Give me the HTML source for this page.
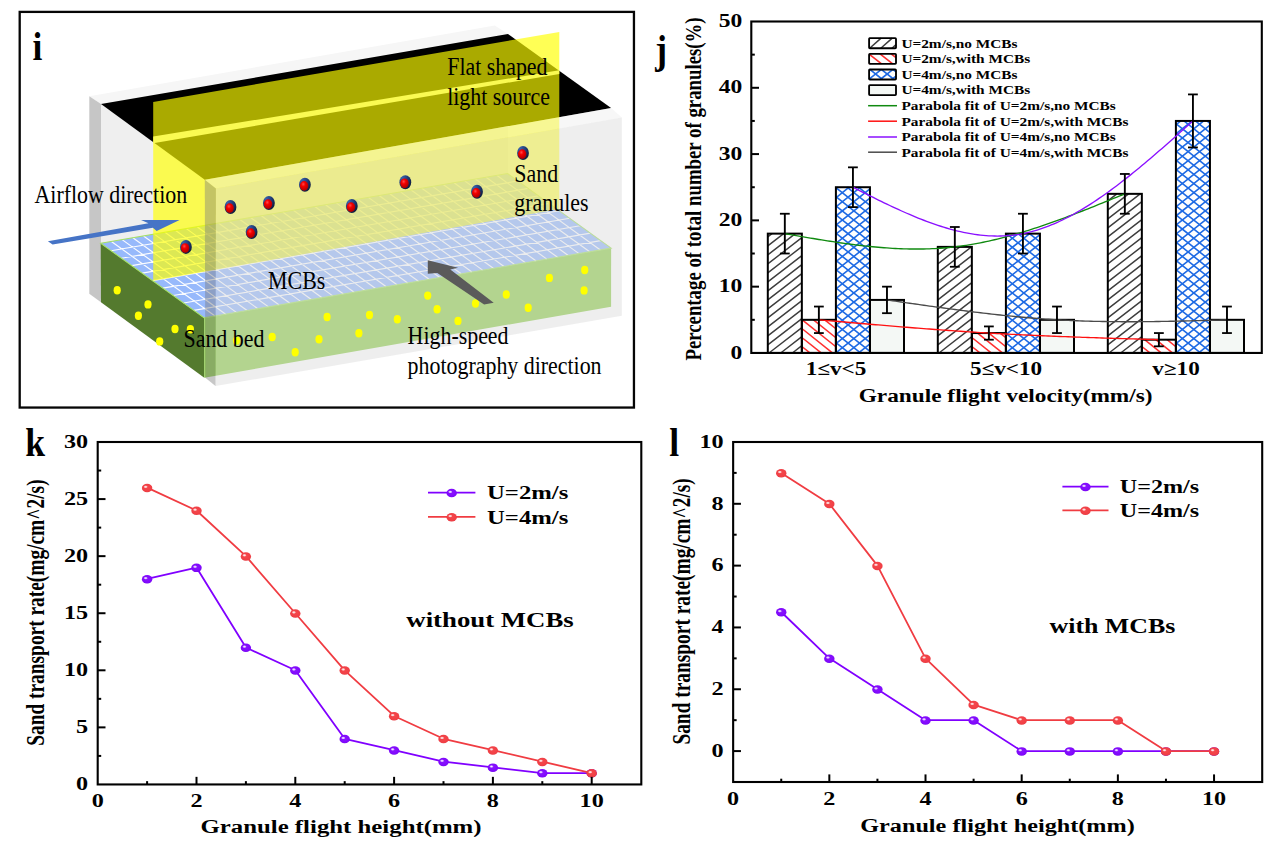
<!DOCTYPE html>
<html lang="en"><head><meta charset="utf-8"><title>Figure panels i-l</title>
<style>
html,body{margin:0;padding:0;background:#fff;}
body{width:1268px;height:850px;overflow:hidden;font-family:"Liberation Serif",serif;}
svg{display:block;}
</style></head>
<body>
<svg width="1268" height="850" viewBox="0 0 1268 850">
<defs>
<radialGradient id="gRed" cx="0.40" cy="0.32" r="0.70"><stop offset="0" stop-color="#ff4a4a"/><stop offset="0.35" stop-color="#f40000"/><stop offset="1" stop-color="#a80000"/></radialGradient>
<radialGradient id="gNavy" cx="0.25" cy="0.2" r="0.95"><stop offset="0" stop-color="#3a62ad"/><stop offset="0.5" stop-color="#1f3c78"/><stop offset="1" stop-color="#0b1430"/></radialGradient>
<radialGradient id="mP" cx="0.5" cy="0.45" r="0.62"><stop offset="0" stop-color="#8a14ff"/><stop offset="0.75" stop-color="#7f08fb"/><stop offset="1" stop-color="#6a00de"/></radialGradient>
<radialGradient id="mR" cx="0.5" cy="0.45" r="0.62"><stop offset="0" stop-color="#f5484c"/><stop offset="0.75" stop-color="#f03f45"/><stop offset="1" stop-color="#dc3038"/></radialGradient>
<radialGradient id="mH" cx="0.5" cy="0.5" r="0.5"><stop offset="0" stop-color="#ffffff" stop-opacity="0.95"/><stop offset="0.45" stop-color="#ffffff" stop-opacity="0.7"/><stop offset="1" stop-color="#ffffff" stop-opacity="0"/></radialGradient>
</defs>
<rect x="0" y="0" width="1268" height="850" fill="#fff"/>
<g id="pi">
<polygon points="89.30,96.30 101.00,104.10 508.00,34.00 494.80,25.50" fill="#f6f6f6" />
<polygon points="89.30,96.30 101.00,104.10 101.00,302.30 89.30,293.70" fill="#c6c6c6" />
<polygon points="101.00,104.10 508.00,34.00 508.00,232.00 101.00,302.30" fill="#efefef" />
<polygon points="100.70,243.30 204.30,317.90 204.30,377.80 101.00,302.30" fill="#547a2e" />
<polygon points="204.30,317.90 611.10,248.10 611.10,306.70 204.30,377.80" fill="#92d050" />
<polygon points="100.70,243.30 204.30,317.90 611.10,248.10 507.50,173.50" fill="#97b9fb" />
<path d="M111.06,250.76L517.86,180.96M121.42,258.22L528.22,188.42M131.78,265.68L538.58,195.88M142.14,273.14L548.94,203.34M152.50,280.60L559.30,210.80M162.86,288.06L569.66,218.26M173.22,295.52L580.02,225.72M183.58,302.98L590.38,233.18M193.94,310.44L600.74,240.64M111.41,241.46L215.01,316.06M122.11,239.63L225.71,314.23M132.82,237.79L236.42,312.39M143.52,235.95L247.12,310.55M154.23,234.12L257.83,308.72M164.93,232.28L268.53,306.88M175.64,230.44L279.24,305.04M186.34,228.61L289.94,303.21M197.05,226.77L300.65,301.37M207.75,224.93L311.35,299.53M218.46,223.09L322.06,297.69M229.16,221.26L332.76,295.86M239.87,219.42L343.47,294.02M250.57,217.58L354.17,292.18M261.28,215.75L364.88,290.35M271.98,213.91L375.58,288.51M282.69,212.07L386.29,286.67M293.39,210.24L396.99,284.84M304.10,208.40L407.70,283.00M314.81,206.56L418.41,281.16M325.51,204.73L429.11,279.33M336.22,202.89L439.82,277.49M346.92,201.05L450.52,275.65M357.63,199.22L461.23,273.82M368.33,197.38L471.93,271.98M379.04,195.54L482.64,270.14M389.74,193.71L493.34,268.31M400.45,191.87L504.05,266.47M411.15,190.03L514.75,264.63M421.86,188.19L525.46,262.79M432.56,186.36L536.16,260.96M443.27,184.52L546.87,259.12M453.97,182.68L557.57,257.28M464.68,180.85L568.28,255.45M475.38,179.01L578.98,253.61M486.09,177.17L589.69,251.77M496.79,175.34L600.39,249.94" stroke="#ffffff" stroke-width="1.15" fill="none" stroke-opacity="0.95"/>
<polygon points="100.7,243.3 204.3,317.9 611.1,248.1 507.5,173.5" fill="none" stroke="#a4e063" stroke-width="1.1"/>
<polygon points="101.00,104.10 508.00,34.00 611.10,108.00 204.80,179.70" fill="#000" />
<polygon points="153.20,102.00 559.30,32.00 559.30,209.00 153.20,280.70" fill="#ffff00" fill-opacity="0.667"/>
<polygon points="153.20,136.60 559.30,70.30 559.30,73.90 153.20,143.20" fill="#fafa52" />
<polygon points="204.80,179.70 215.90,188.40 621.80,117.60 611.10,108.00" fill="#ececec" fill-opacity="0.42"/>
<polygon points="215.90,188.40 621.80,117.60 621.80,315.80 215.50,386.10" fill="#dbdbdb" fill-opacity="0.46"/>
<polygon points="204.80,179.70 215.90,188.40 215.50,386.10 205.30,377.80" fill="#7e7e7e" fill-opacity="0.435"/>
<ellipse cx="117.2" cy="290.3" rx="3.6" ry="4.2" fill="#ffff00"/>
<ellipse cx="148" cy="304.4" rx="3.6" ry="4.2" fill="#ffff00"/>
<ellipse cx="138.4" cy="315.8" rx="3.6" ry="4.2" fill="#ffff00"/>
<ellipse cx="175" cy="329" rx="3.6" ry="4.2" fill="#ffff00"/>
<ellipse cx="190.4" cy="329.3" rx="3.6" ry="4.2" fill="#ffff00"/>
<ellipse cx="159.7" cy="341.4" rx="3.6" ry="4.2" fill="#ffff00"/>
<ellipse cx="236.5" cy="340.6" rx="3.6" ry="4.2" fill="#ffff00"/>
<ellipse cx="272.2" cy="337.0" rx="3.6" ry="4.2" fill="#ffff00"/>
<ellipse cx="295.2" cy="352.3" rx="3.6" ry="4.2" fill="#ffff00"/>
<ellipse cx="319" cy="339.2" rx="3.6" ry="4.2" fill="#ffff00"/>
<ellipse cx="327.1" cy="317" rx="3.6" ry="4.2" fill="#ffff00"/>
<ellipse cx="358.9" cy="333.2" rx="3.6" ry="4.2" fill="#ffff00"/>
<ellipse cx="369.5" cy="315" rx="3.6" ry="4.2" fill="#ffff00"/>
<ellipse cx="397.3" cy="319.3" rx="3.6" ry="4.2" fill="#ffff00"/>
<ellipse cx="427.7" cy="295.6" rx="3.6" ry="4.2" fill="#ffff00"/>
<ellipse cx="437.1" cy="309.3" rx="3.6" ry="4.2" fill="#ffff00"/>
<ellipse cx="458" cy="320.9" rx="3.6" ry="4.2" fill="#ffff00"/>
<ellipse cx="475.5" cy="303.5" rx="3.6" ry="4.2" fill="#ffff00"/>
<ellipse cx="506.3" cy="294.5" rx="3.6" ry="4.2" fill="#ffff00"/>
<ellipse cx="528.2" cy="307.7" rx="3.6" ry="4.2" fill="#ffff00"/>
<ellipse cx="549.4" cy="277.9" rx="3.6" ry="4.2" fill="#ffff00"/>
<ellipse cx="584.7" cy="270" rx="3.6" ry="4.2" fill="#ffff00"/>
<ellipse cx="584.1" cy="290.4" rx="3.6" ry="4.2" fill="#ffff00"/>
<ellipse cx="185.9" cy="246.9" rx="5.9" ry="7" fill="url(#gNavy)"/>
<ellipse cx="185.1" cy="248.0" rx="4.2" ry="4.85" fill="url(#gRed)"/>
<ellipse cx="230.5" cy="207" rx="5.9" ry="7" fill="url(#gNavy)"/>
<ellipse cx="229.7" cy="208.1" rx="4.2" ry="4.85" fill="url(#gRed)"/>
<ellipse cx="251.6" cy="232" rx="5.9" ry="7" fill="url(#gNavy)"/>
<ellipse cx="250.79999999999998" cy="233.1" rx="4.2" ry="4.85" fill="url(#gRed)"/>
<ellipse cx="268.9" cy="203" rx="5.9" ry="7" fill="url(#gNavy)"/>
<ellipse cx="268.09999999999997" cy="204.1" rx="4.2" ry="4.85" fill="url(#gRed)"/>
<ellipse cx="304.9" cy="184.8" rx="5.9" ry="7" fill="url(#gNavy)"/>
<ellipse cx="304.09999999999997" cy="185.9" rx="4.2" ry="4.85" fill="url(#gRed)"/>
<ellipse cx="351.8" cy="206" rx="5.9" ry="7" fill="url(#gNavy)"/>
<ellipse cx="351.0" cy="207.1" rx="4.2" ry="4.85" fill="url(#gRed)"/>
<ellipse cx="405.3" cy="182.2" rx="5.9" ry="7" fill="url(#gNavy)"/>
<ellipse cx="404.5" cy="183.29999999999998" rx="4.2" ry="4.85" fill="url(#gRed)"/>
<ellipse cx="477" cy="191.8" rx="5.9" ry="7" fill="url(#gNavy)"/>
<ellipse cx="476.2" cy="192.9" rx="4.2" ry="4.85" fill="url(#gRed)"/>
<ellipse cx="523" cy="153" rx="5.9" ry="7" fill="url(#gNavy)"/>
<ellipse cx="522.2" cy="154.1" rx="4.2" ry="4.85" fill="url(#gRed)"/>
<polygon points="47.90,241.20 148.50,223.20 141.00,219.90 179.60,219.90 156.70,231.00 152.80,227.80 52.60,244.40" fill="#4674c6" />
<polygon points="427.80,260.20 458.10,267.70 450.30,269.40 493.70,302.70 484.10,304.60 437.30,272.90 427.80,273.70" fill="#5a5a5a" />
<rect x="19.7" y="11.9" width="614.25" height="395.65" fill="none" stroke="#050505" stroke-width="2.3"/>
<text transform="translate(34.50,203.30) scale(0.8980,1.0000)" font-family="Liberation Serif" font-weight="normal" font-size="24.4" text-anchor="start" fill="#000">Airflow direction</text>
<text transform="translate(447.20,74.90) scale(0.8980,1.0000)" font-family="Liberation Serif" font-weight="normal" font-size="24.4" text-anchor="start" fill="#000">Flat shaped</text>
<text transform="translate(447.20,104.80) scale(0.8980,1.0000)" font-family="Liberation Serif" font-weight="normal" font-size="24.4" text-anchor="start" fill="#000">light source</text>
<text transform="translate(514.30,181.60) scale(0.8980,1.0000)" font-family="Liberation Serif" font-weight="normal" font-size="24.4" text-anchor="start" fill="#000">Sand</text>
<text transform="translate(514.30,211.10) scale(0.8980,1.0000)" font-family="Liberation Serif" font-weight="normal" font-size="24.4" text-anchor="start" fill="#000">granules</text>
<text transform="translate(268.10,289.20) scale(0.8980,1.0000)" font-family="Liberation Serif" font-weight="normal" font-size="24.4" text-anchor="start" fill="#000">MCBs</text>
<text transform="translate(183.50,347.20) scale(0.8980,1.0000)" font-family="Liberation Serif" font-weight="normal" font-size="24.4" text-anchor="start" fill="#000">Sand bed</text>
<text transform="translate(407.60,343.90) scale(0.8980,1.0000)" font-family="Liberation Serif" font-weight="normal" font-size="24.4" text-anchor="start" fill="#000">High-speed</text>
<text transform="translate(407.60,373.80) scale(0.8980,1.0000)" font-family="Liberation Serif" font-weight="normal" font-size="24.4" text-anchor="start" fill="#000">photography direction</text>
<text transform="translate(37.40,59.85) scale(0.8700,1.0000)" font-family="Liberation Serif" font-weight="bold" font-size="40.7" text-anchor="middle" fill="#000">i</text>
</g>
<g id="pj">
<rect x="767.80" y="233.63" width="34.05" height="119.32" fill="#fff"/>
<path d="M767.80,236.85L771.98,233.63M767.80,245.85L783.67,233.63M767.80,254.85L795.36,233.63M767.80,263.85L801.85,237.63M767.80,272.85L801.85,246.63M767.80,281.85L801.85,255.63M767.80,290.85L801.85,264.63M767.80,299.85L801.85,273.63M767.80,308.85L801.85,282.63M767.80,317.85L801.85,291.63M767.80,326.85L801.85,300.63M767.80,335.85L801.85,309.63M767.80,344.85L801.85,318.63M768.97,352.95L801.85,327.63M780.66,352.95L801.85,336.63M792.35,352.95L801.85,345.63" stroke="#3d3d3d" stroke-width="1.4" fill="none" stroke-opacity="1.0"/>
<rect x="801.85" y="319.81" width="34.05" height="33.14" fill="#fff"/>
<path d="M824.73,319.81L835.90,328.74M813.48,319.81L835.90,337.74M802.23,319.81L835.90,346.74M801.85,328.50L832.41,352.95M801.85,337.50L821.16,352.95M801.85,346.50L809.91,352.95" stroke="#ff3030" stroke-width="1.55" fill="none" stroke-opacity="1.0"/>
<rect x="835.90" y="187.22" width="34.05" height="165.72" fill="#fff"/>
<path d="M835.90,188.64L837.68,187.22M835.90,197.76L849.15,187.22M835.90,206.88L860.62,187.22M835.90,216.00L869.95,188.93M835.90,225.12L869.95,198.05M835.90,234.24L869.95,207.17M835.90,243.36L869.95,216.29M835.90,252.48L869.95,225.41M835.90,261.60L869.95,234.53M835.90,270.72L869.95,243.65M835.90,279.84L869.95,252.77M835.90,288.96L869.95,261.89M835.90,298.08L869.95,271.01M835.90,307.20L869.95,280.13M835.90,316.32L869.95,289.25M835.90,325.44L869.95,298.37M835.90,334.56L869.95,307.49M835.90,343.68L869.95,316.61M835.90,352.80L869.95,325.73M847.18,352.95L869.95,334.85M858.65,352.95L869.95,343.97" stroke="#1e6ae4" stroke-width="1.6" fill="none" stroke-opacity="1.0"/>
<path d="M858.47,187.22L869.95,196.35M847.00,187.22L869.95,205.47M835.90,187.52L869.95,214.59M835.90,196.64L869.95,223.71M835.90,205.76L869.95,232.83M835.90,214.88L869.95,241.95M835.90,224.00L869.95,251.07M835.90,233.12L869.95,260.19M835.90,242.24L869.95,269.31M835.90,251.36L869.95,278.43M835.90,260.48L869.95,287.55M835.90,269.60L869.95,296.67M835.90,278.72L869.95,305.79M835.90,287.84L869.95,314.91M835.90,296.96L869.95,324.03M835.90,306.08L869.95,333.15M835.90,315.20L869.95,342.27M835.90,324.32L869.95,351.39M835.90,333.44L860.44,352.95M835.90,342.56L848.97,352.95M835.90,351.68L837.50,352.95" stroke="#1e6ae4" stroke-width="1.6" fill="none" stroke-opacity="1.0"/>
<rect x="869.95" y="299.92" width="34.05" height="53.03" fill="#f4f8f5"/>
<rect x="937.80" y="246.89" width="34.05" height="106.06" fill="#fff"/>
<path d="M937.80,254.85L948.14,246.89M937.80,263.85L959.83,246.89M937.80,272.85L971.52,246.89M937.80,281.85L971.85,255.63M937.80,290.85L971.85,264.63M937.80,299.85L971.85,273.63M937.80,308.85L971.85,282.63M937.80,317.85L971.85,291.63M937.80,326.85L971.85,300.63M937.80,335.85L971.85,309.63M937.80,344.85L971.85,318.63M938.97,352.95L971.85,327.63M950.66,352.95L971.85,336.63M962.35,352.95L971.85,345.63" stroke="#3d3d3d" stroke-width="1.4" fill="none" stroke-opacity="1.0"/>
<rect x="971.85" y="333.06" width="34.05" height="19.89" fill="#fff"/>
<path d="M1000.05,333.06L1005.90,337.74M988.80,333.06L1005.90,346.74M977.55,333.06L1002.41,352.95M971.85,337.50L991.16,352.95M971.85,346.50L979.91,352.95" stroke="#ff3030" stroke-width="1.55" fill="none" stroke-opacity="1.0"/>
<rect x="1005.90" y="233.63" width="34.05" height="119.32" fill="#fff"/>
<path d="M1005.90,234.24L1006.67,233.63M1005.90,243.36L1018.14,233.63M1005.90,252.48L1029.61,233.63M1005.90,261.60L1039.95,234.53M1005.90,270.72L1039.95,243.65M1005.90,279.84L1039.95,252.77M1005.90,288.96L1039.95,261.89M1005.90,298.08L1039.95,271.01M1005.90,307.20L1039.95,280.13M1005.90,316.32L1039.95,289.25M1005.90,325.44L1039.95,298.37M1005.90,334.56L1039.95,307.49M1005.90,343.68L1039.95,316.61M1005.90,352.80L1039.95,325.73M1017.18,352.95L1039.95,334.85M1028.65,352.95L1039.95,343.97" stroke="#1e6ae4" stroke-width="1.6" fill="none" stroke-opacity="1.0"/>
<path d="M1029.48,233.63L1039.95,241.95M1018.01,233.63L1039.95,251.07M1006.54,233.63L1039.95,260.19M1005.90,242.24L1039.95,269.31M1005.90,251.36L1039.95,278.43M1005.90,260.48L1039.95,287.55M1005.90,269.60L1039.95,296.67M1005.90,278.72L1039.95,305.79M1005.90,287.84L1039.95,314.91M1005.90,296.96L1039.95,324.03M1005.90,306.08L1039.95,333.15M1005.90,315.20L1039.95,342.27M1005.90,324.32L1039.95,351.39M1005.90,333.44L1030.44,352.95M1005.90,342.56L1018.97,352.95M1005.90,351.68L1007.50,352.95" stroke="#1e6ae4" stroke-width="1.6" fill="none" stroke-opacity="1.0"/>
<rect x="1039.95" y="319.81" width="34.05" height="33.14" fill="#f4f8f5"/>
<rect x="1107.80" y="193.85" width="34.05" height="159.10" fill="#fff"/>
<path d="M1107.80,200.85L1116.89,193.85M1107.80,209.85L1128.57,193.85M1107.80,218.85L1140.26,193.85M1107.80,227.85L1141.85,201.63M1107.80,236.85L1141.85,210.63M1107.80,245.85L1141.85,219.63M1107.80,254.85L1141.85,228.63M1107.80,263.85L1141.85,237.63M1107.80,272.85L1141.85,246.63M1107.80,281.85L1141.85,255.63M1107.80,290.85L1141.85,264.63M1107.80,299.85L1141.85,273.63M1107.80,308.85L1141.85,282.63M1107.80,317.85L1141.85,291.63M1107.80,326.85L1141.85,300.63M1107.80,335.85L1141.85,309.63M1107.80,344.85L1141.85,318.63M1108.97,352.95L1141.85,327.63M1120.66,352.95L1141.85,336.63M1132.35,352.95L1141.85,345.63" stroke="#3d3d3d" stroke-width="1.4" fill="none" stroke-opacity="1.0"/>
<rect x="1141.85" y="339.69" width="34.05" height="13.26" fill="#fff"/>
<path d="M1167.09,339.69L1175.90,346.74M1155.84,339.69L1172.41,352.95M1144.59,339.69L1161.16,352.95M1141.85,346.50L1149.91,352.95" stroke="#ff3030" stroke-width="1.55" fill="none" stroke-opacity="1.0"/>
<rect x="1175.90" y="120.94" width="34.05" height="232.01" fill="#fff"/>
<path d="M1175.90,124.80L1180.76,120.94M1175.90,133.92L1192.23,120.94M1175.90,143.04L1203.71,120.94M1175.90,152.16L1209.95,125.09M1175.90,161.28L1209.95,134.21M1175.90,170.40L1209.95,143.33M1175.90,179.52L1209.95,152.45M1175.90,188.64L1209.95,161.57M1175.90,197.76L1209.95,170.69M1175.90,206.88L1209.95,179.81M1175.90,216.00L1209.95,188.93M1175.90,225.12L1209.95,198.05M1175.90,234.24L1209.95,207.17M1175.90,243.36L1209.95,216.29M1175.90,252.48L1209.95,225.41M1175.90,261.60L1209.95,234.53M1175.90,270.72L1209.95,243.65M1175.90,279.84L1209.95,252.77M1175.90,288.96L1209.95,261.89M1175.90,298.08L1209.95,271.01M1175.90,307.20L1209.95,280.13M1175.90,316.32L1209.95,289.25M1175.90,325.44L1209.95,298.37M1175.90,334.56L1209.95,307.49M1175.90,343.68L1209.95,316.61M1175.90,352.80L1209.95,325.73M1187.18,352.95L1209.95,334.85M1198.65,352.95L1209.95,343.97" stroke="#1e6ae4" stroke-width="1.6" fill="none" stroke-opacity="1.0"/>
<path d="M1206.86,120.94L1209.95,123.39M1195.39,120.94L1209.95,132.51M1183.92,120.94L1209.95,141.63M1175.90,123.68L1209.95,150.75M1175.90,132.80L1209.95,159.87M1175.90,141.92L1209.95,168.99M1175.90,151.04L1209.95,178.11M1175.90,160.16L1209.95,187.23M1175.90,169.28L1209.95,196.35M1175.90,178.40L1209.95,205.47M1175.90,187.52L1209.95,214.59M1175.90,196.64L1209.95,223.71M1175.90,205.76L1209.95,232.83M1175.90,214.88L1209.95,241.95M1175.90,224.00L1209.95,251.07M1175.90,233.12L1209.95,260.19M1175.90,242.24L1209.95,269.31M1175.90,251.36L1209.95,278.43M1175.90,260.48L1209.95,287.55M1175.90,269.60L1209.95,296.67M1175.90,278.72L1209.95,305.79M1175.90,287.84L1209.95,314.91M1175.90,296.96L1209.95,324.03M1175.90,306.08L1209.95,333.15M1175.90,315.20L1209.95,342.27M1175.90,324.32L1209.95,351.39M1175.90,333.44L1200.44,352.95M1175.90,342.56L1188.97,352.95M1175.90,351.68L1177.50,352.95" stroke="#1e6ae4" stroke-width="1.6" fill="none" stroke-opacity="1.0"/>
<rect x="1209.95" y="319.81" width="34.05" height="33.14" fill="#f4f8f5"/>
<rect x="767.80" y="233.63" width="34.05" height="119.32" fill="none" stroke="#000" stroke-width="2"/>
<rect x="801.85" y="319.81" width="34.05" height="33.14" fill="none" stroke="#000" stroke-width="2"/>
<rect x="835.90" y="187.22" width="34.05" height="165.72" fill="none" stroke="#000" stroke-width="2"/>
<rect x="869.95" y="299.92" width="34.05" height="53.03" fill="none" stroke="#000" stroke-width="2"/>
<rect x="937.80" y="246.89" width="34.05" height="106.06" fill="none" stroke="#000" stroke-width="2"/>
<rect x="971.85" y="333.06" width="34.05" height="19.89" fill="none" stroke="#000" stroke-width="2"/>
<rect x="1005.90" y="233.63" width="34.05" height="119.32" fill="none" stroke="#000" stroke-width="2"/>
<rect x="1039.95" y="319.81" width="34.05" height="33.14" fill="none" stroke="#000" stroke-width="2"/>
<rect x="1107.80" y="193.85" width="34.05" height="159.10" fill="none" stroke="#000" stroke-width="2"/>
<rect x="1141.85" y="339.69" width="34.05" height="13.26" fill="none" stroke="#000" stroke-width="2"/>
<rect x="1175.90" y="120.94" width="34.05" height="232.01" fill="none" stroke="#000" stroke-width="2"/>
<rect x="1209.95" y="319.81" width="34.05" height="33.14" fill="none" stroke="#000" stroke-width="2"/>
<polyline points="784.82,233.63 787.66,234.13 790.49,234.62 793.32,235.12 796.16,235.61 798.99,236.10 801.82,236.59 804.66,237.08 807.49,237.57 810.32,238.05 813.16,238.52 815.99,238.99 818.82,239.46 821.66,239.92 824.49,240.38 827.32,240.83 830.16,241.27 832.99,241.70 835.82,242.13 838.66,242.55 841.49,242.96 844.32,243.36 847.16,243.75 849.99,244.13 852.82,244.50 855.66,244.86 858.49,245.21 861.32,245.54 864.16,245.86 866.99,246.17 869.82,246.47 872.66,246.75 875.49,247.02 878.32,247.28 881.16,247.52 883.99,247.74 886.82,247.95 889.66,248.14 892.49,248.31 895.32,248.47 898.16,248.60 900.99,248.72 903.82,248.82 906.66,248.91 909.49,248.97 912.32,249.01 915.16,249.03 917.99,249.03 920.83,249.01 923.66,248.96 926.49,248.90 929.33,248.81 932.16,248.69 934.99,248.56 937.83,248.39 940.66,248.21 943.49,248.00 946.33,247.76 949.16,247.49 951.99,247.20 954.83,246.89 957.66,246.54 960.49,246.17 963.33,245.77 966.16,245.34 968.99,244.89 971.83,244.42 974.66,243.92 977.49,243.39 980.33,242.84 983.16,242.27 985.99,241.67 988.83,241.05 991.66,240.41 994.49,239.75 997.33,239.07 1000.16,238.36 1002.99,237.64 1005.83,236.89 1008.66,236.13 1011.49,235.35 1014.33,234.55 1017.16,233.73 1019.99,232.89 1022.83,232.04 1025.66,231.17 1028.49,230.28 1031.33,229.38 1034.16,228.46 1036.99,227.53 1039.83,226.58 1042.66,225.62 1045.49,224.65 1048.33,223.67 1051.16,222.67 1053.99,221.66 1056.83,220.64 1059.66,219.60 1062.49,218.56 1065.33,217.51 1068.16,216.44 1070.99,215.37 1073.83,214.29 1076.66,213.20 1079.49,212.10 1082.33,211.00 1085.16,209.88 1087.99,208.77 1090.83,207.64 1093.66,206.51 1096.49,205.38 1099.33,204.24 1102.16,203.10 1104.99,201.95 1107.83,200.80 1110.66,199.64 1113.49,198.49 1116.33,197.33 1119.16,196.17 1121.99,195.01 1124.83,193.85" fill="none" stroke="#108a10" stroke-width="1.35"/>
<polyline points="818.87,319.81 821.71,320.05 824.54,320.30 827.37,320.55 830.21,320.80 833.04,321.05 835.87,321.29 838.71,321.54 841.54,321.79 844.37,322.04 847.21,322.28 850.04,322.53 852.87,322.77 855.71,323.02 858.54,323.26 861.37,323.51 864.21,323.75 867.04,323.99 869.87,324.23 872.71,324.48 875.54,324.72 878.37,324.95 881.21,325.19 884.04,325.43 886.87,325.67 889.71,325.90 892.54,326.13 895.37,326.37 898.21,326.60 901.04,326.83 903.87,327.06 906.71,327.28 909.54,327.51 912.37,327.73 915.21,327.96 918.04,328.18 920.87,328.40 923.71,328.61 926.54,328.83 929.37,329.04 932.21,329.26 935.04,329.47 937.87,329.68 940.71,329.88 943.54,330.09 946.37,330.29 949.21,330.49 952.04,330.69 954.88,330.89 957.71,331.08 960.54,331.28 963.38,331.47 966.21,331.65 969.04,331.84 971.88,332.02 974.71,332.20 977.54,332.38 980.38,332.55 983.21,332.73 986.04,332.90 988.88,333.06 991.71,333.23 994.54,333.39 997.38,333.55 1000.21,333.70 1003.04,333.86 1005.88,334.01 1008.71,334.16 1011.54,334.30 1014.38,334.45 1017.21,334.59 1020.04,334.73 1022.88,334.87 1025.71,335.00 1028.54,335.13 1031.38,335.26 1034.21,335.39 1037.04,335.52 1039.88,335.64 1042.71,335.77 1045.54,335.89 1048.38,336.01 1051.21,336.12 1054.04,336.24 1056.88,336.35 1059.71,336.46 1062.54,336.57 1065.38,336.68 1068.21,336.79 1071.04,336.89 1073.88,337.00 1076.71,337.10 1079.54,337.20 1082.38,337.30 1085.21,337.40 1088.04,337.50 1090.88,337.60 1093.71,337.69 1096.54,337.79 1099.38,337.88 1102.21,337.97 1105.04,338.06 1107.88,338.16 1110.71,338.25 1113.54,338.33 1116.38,338.42 1119.21,338.51 1122.04,338.60 1124.88,338.68 1127.71,338.77 1130.54,338.86 1133.38,338.94 1136.21,339.03 1139.04,339.11 1141.88,339.19 1144.71,339.28 1147.54,339.36 1150.38,339.44 1153.21,339.53 1156.04,339.61 1158.88,339.69" fill="none" stroke="#ff1010" stroke-width="1.35"/>
<polyline points="852.92,187.22 855.76,188.66 858.59,190.10 861.42,191.53 864.26,192.96 867.09,194.38 869.92,195.80 872.76,197.22 875.59,198.62 878.42,200.02 881.26,201.40 884.09,202.78 886.92,204.14 889.76,205.49 892.59,206.83 895.42,208.15 898.26,209.45 901.09,210.74 903.92,212.00 906.76,213.25 909.59,214.48 912.42,215.68 915.26,216.86 918.09,218.02 920.92,219.15 923.76,220.25 926.59,221.33 929.42,222.38 932.26,223.40 935.09,224.39 937.92,225.34 940.76,226.26 943.59,227.15 946.42,228.00 949.26,228.82 952.09,229.60 954.92,230.34 957.76,231.04 960.59,231.70 963.42,232.32 966.26,232.89 969.09,233.42 971.92,233.91 974.76,234.34 977.59,234.74 980.42,235.08 983.26,235.37 986.09,235.61 988.92,235.80 991.76,235.94 994.59,236.02 997.42,236.05 1000.26,236.02 1003.09,235.93 1005.92,235.79 1008.76,235.58 1011.59,235.32 1014.42,234.99 1017.26,234.60 1020.09,234.15 1022.92,233.63 1025.76,233.04 1028.59,232.39 1031.42,231.68 1034.26,230.90 1037.09,230.06 1039.92,229.16 1042.76,228.20 1045.59,227.18 1048.42,226.11 1051.26,224.97 1054.09,223.79 1056.92,222.54 1059.76,221.25 1062.59,219.90 1065.42,218.51 1068.26,217.06 1071.09,215.56 1073.92,214.02 1076.76,212.43 1079.59,210.79 1082.42,209.12 1085.26,207.39 1088.09,205.63 1090.92,203.82 1093.76,201.98 1096.59,200.10 1099.42,198.17 1102.26,196.22 1105.09,194.22 1107.92,192.20 1110.76,190.14 1113.59,188.04 1116.42,185.92 1119.26,183.77 1122.09,181.59 1124.92,179.38 1127.76,177.14 1130.59,174.88 1133.42,172.59 1136.26,170.28 1139.09,167.95 1141.92,165.60 1144.76,163.23 1147.59,160.84 1150.42,158.43 1153.26,156.01 1156.09,153.56 1158.92,151.11 1161.76,148.64 1164.59,146.16 1167.42,143.67 1170.26,141.17 1173.09,138.66 1175.92,136.14 1178.76,133.62 1181.59,131.09 1184.42,128.55 1187.26,126.02 1190.09,123.48 1192.92,120.94" fill="none" stroke="#8a10ff" stroke-width="1.35"/>
<polyline points="886.97,299.92 889.81,300.33 892.64,300.75 895.47,301.16 898.31,301.57 901.14,301.99 903.97,302.40 906.81,302.81 909.64,303.22 912.47,303.63 915.31,304.04 918.14,304.44 920.97,304.85 923.81,305.25 926.64,305.66 929.47,306.06 932.31,306.45 935.14,306.85 937.97,307.24 940.81,307.63 943.64,308.02 946.47,308.41 949.31,308.79 952.14,309.17 954.97,309.54 957.81,309.92 960.64,310.29 963.47,310.65 966.31,311.01 969.14,311.37 971.97,311.73 974.81,312.08 977.64,312.42 980.48,312.76 983.31,313.10 986.14,313.43 988.98,313.76 991.81,314.08 994.64,314.40 997.48,314.71 1000.31,315.02 1003.14,315.32 1005.98,315.61 1008.81,315.90 1011.64,316.19 1014.48,316.46 1017.31,316.74 1020.14,317.00 1022.98,317.26 1025.81,317.51 1028.64,317.76 1031.47,317.99 1034.31,318.23 1037.14,318.45 1039.97,318.67 1042.81,318.88 1045.64,319.08 1048.47,319.27 1051.31,319.46 1054.14,319.64 1056.97,319.81 1059.81,319.97 1062.64,320.12 1065.47,320.27 1068.31,320.40 1071.14,320.53 1073.98,320.66 1076.81,320.77 1079.64,320.88 1082.47,320.98 1085.31,321.07 1088.14,321.16 1090.98,321.24 1093.81,321.31 1096.64,321.38 1099.48,321.44 1102.31,321.49 1105.14,321.54 1107.98,321.58 1110.81,321.62 1113.64,321.65 1116.48,321.67 1119.31,321.69 1122.14,321.71 1124.98,321.71 1127.81,321.72 1130.64,321.72 1133.48,321.71 1136.31,321.70 1139.14,321.69 1141.98,321.67 1144.81,321.65 1147.64,321.62 1150.48,321.59 1153.31,321.55 1156.14,321.52 1158.98,321.48 1161.81,321.43 1164.64,321.38 1167.48,321.33 1170.31,321.28 1173.14,321.22 1175.98,321.16 1178.81,321.10 1181.64,321.04 1184.48,320.97 1187.31,320.90 1190.14,320.83 1192.98,320.76 1195.81,320.69 1198.64,320.61 1201.48,320.53 1204.31,320.46 1207.14,320.38 1209.98,320.30 1212.81,320.22 1215.64,320.13 1218.48,320.05 1221.31,319.97 1224.14,319.89 1226.98,319.81" fill="none" stroke="#4a4a4a" stroke-width="1.35"/>
<line x1="784.82" y1="213.74" x2="784.82" y2="253.51" stroke="#000" stroke-width="1.9" />
<line x1="779.92" y1="213.74" x2="789.72" y2="213.74" stroke="#000" stroke-width="1.8" />
<line x1="779.92" y1="253.51" x2="789.72" y2="253.51" stroke="#000" stroke-width="1.8" />
<line x1="818.87" y1="306.55" x2="818.87" y2="333.06" stroke="#000" stroke-width="1.9" />
<line x1="813.97" y1="306.55" x2="823.77" y2="306.55" stroke="#000" stroke-width="1.8" />
<line x1="813.97" y1="333.06" x2="823.77" y2="333.06" stroke="#000" stroke-width="1.8" />
<line x1="852.92" y1="167.34" x2="852.92" y2="207.11" stroke="#000" stroke-width="1.9" />
<line x1="848.02" y1="167.34" x2="857.82" y2="167.34" stroke="#000" stroke-width="1.8" />
<line x1="848.02" y1="207.11" x2="857.82" y2="207.11" stroke="#000" stroke-width="1.8" />
<line x1="886.97" y1="286.66" x2="886.97" y2="313.18" stroke="#000" stroke-width="1.9" />
<line x1="882.07" y1="286.66" x2="891.87" y2="286.66" stroke="#000" stroke-width="1.8" />
<line x1="882.07" y1="313.18" x2="891.87" y2="313.18" stroke="#000" stroke-width="1.8" />
<line x1="954.82" y1="227.00" x2="954.82" y2="266.77" stroke="#000" stroke-width="1.9" />
<line x1="949.92" y1="227.00" x2="959.72" y2="227.00" stroke="#000" stroke-width="1.8" />
<line x1="949.92" y1="266.77" x2="959.72" y2="266.77" stroke="#000" stroke-width="1.8" />
<line x1="988.87" y1="326.43" x2="988.87" y2="339.69" stroke="#000" stroke-width="1.9" />
<line x1="983.97" y1="326.43" x2="993.77" y2="326.43" stroke="#000" stroke-width="1.8" />
<line x1="983.97" y1="339.69" x2="993.77" y2="339.69" stroke="#000" stroke-width="1.8" />
<line x1="1022.92" y1="213.74" x2="1022.92" y2="253.51" stroke="#000" stroke-width="1.9" />
<line x1="1018.02" y1="213.74" x2="1027.83" y2="213.74" stroke="#000" stroke-width="1.8" />
<line x1="1018.02" y1="253.51" x2="1027.83" y2="253.51" stroke="#000" stroke-width="1.8" />
<line x1="1056.98" y1="306.55" x2="1056.98" y2="333.06" stroke="#000" stroke-width="1.9" />
<line x1="1052.08" y1="306.55" x2="1061.88" y2="306.55" stroke="#000" stroke-width="1.8" />
<line x1="1052.08" y1="333.06" x2="1061.88" y2="333.06" stroke="#000" stroke-width="1.8" />
<line x1="1124.83" y1="173.97" x2="1124.83" y2="213.74" stroke="#000" stroke-width="1.9" />
<line x1="1119.92" y1="173.97" x2="1129.73" y2="173.97" stroke="#000" stroke-width="1.8" />
<line x1="1119.92" y1="213.74" x2="1129.73" y2="213.74" stroke="#000" stroke-width="1.8" />
<line x1="1158.88" y1="333.06" x2="1158.88" y2="346.32" stroke="#000" stroke-width="1.9" />
<line x1="1153.97" y1="333.06" x2="1163.78" y2="333.06" stroke="#000" stroke-width="1.8" />
<line x1="1153.97" y1="346.32" x2="1163.78" y2="346.32" stroke="#000" stroke-width="1.8" />
<line x1="1192.92" y1="94.42" x2="1192.92" y2="147.45" stroke="#000" stroke-width="1.9" />
<line x1="1188.02" y1="94.42" x2="1197.83" y2="94.42" stroke="#000" stroke-width="1.8" />
<line x1="1188.02" y1="147.45" x2="1197.83" y2="147.45" stroke="#000" stroke-width="1.8" />
<line x1="1226.98" y1="306.55" x2="1226.98" y2="333.06" stroke="#000" stroke-width="1.9" />
<line x1="1222.08" y1="306.55" x2="1231.88" y2="306.55" stroke="#000" stroke-width="1.8" />
<line x1="1222.08" y1="333.06" x2="1231.88" y2="333.06" stroke="#000" stroke-width="1.8" />
<rect x="751.3" y="21.5" width="510.50" height="331.45" fill="none" stroke="#000" stroke-width="2.1"/>
<text transform="translate(742.20,358.55) scale(1.2600,1.0000)" font-family="Liberation Serif" font-weight="bold" font-size="18.7" text-anchor="end" fill="#000">0</text>
<line x1="751.30" y1="319.81" x2="754.80" y2="319.81" stroke="#000" stroke-width="2" />
<line x1="751.30" y1="286.66" x2="759.00" y2="286.66" stroke="#000" stroke-width="2" />
<text transform="translate(742.20,292.26) scale(1.2600,1.0000)" font-family="Liberation Serif" font-weight="bold" font-size="18.7" text-anchor="end" fill="#000">10</text>
<line x1="751.30" y1="253.51" x2="754.80" y2="253.51" stroke="#000" stroke-width="2" />
<line x1="751.30" y1="220.37" x2="759.00" y2="220.37" stroke="#000" stroke-width="2" />
<text transform="translate(742.20,225.97) scale(1.2600,1.0000)" font-family="Liberation Serif" font-weight="bold" font-size="18.7" text-anchor="end" fill="#000">20</text>
<line x1="751.30" y1="187.22" x2="754.80" y2="187.22" stroke="#000" stroke-width="2" />
<line x1="751.30" y1="154.08" x2="759.00" y2="154.08" stroke="#000" stroke-width="2" />
<text transform="translate(742.20,159.68) scale(1.2600,1.0000)" font-family="Liberation Serif" font-weight="bold" font-size="18.7" text-anchor="end" fill="#000">30</text>
<line x1="751.30" y1="120.94" x2="754.80" y2="120.94" stroke="#000" stroke-width="2" />
<line x1="751.30" y1="87.79" x2="759.00" y2="87.79" stroke="#000" stroke-width="2" />
<text transform="translate(742.20,93.39) scale(1.2600,1.0000)" font-family="Liberation Serif" font-weight="bold" font-size="18.7" text-anchor="end" fill="#000">40</text>
<line x1="751.30" y1="54.64" x2="754.80" y2="54.64" stroke="#000" stroke-width="2" />
<text transform="translate(742.20,27.10) scale(1.2600,1.0000)" font-family="Liberation Serif" font-weight="bold" font-size="18.7" text-anchor="end" fill="#000">50</text>
<text transform="translate(836.00,374.60) scale(1.2600,1.0000)" font-family="Liberation Serif" font-weight="bold" font-size="18.4" text-anchor="middle" fill="#000">1≤v&lt;5</text>
<text transform="translate(1006.00,374.60) scale(1.2600,1.0000)" font-family="Liberation Serif" font-weight="bold" font-size="18.4" text-anchor="middle" fill="#000">5≤v&lt;10</text>
<text transform="translate(1176.00,374.60) scale(1.2600,1.0000)" font-family="Liberation Serif" font-weight="bold" font-size="18.4" text-anchor="middle" fill="#000">v≥10</text>
<text transform="translate(1005.60,401.60) scale(1.2640,1.0000)" font-family="Liberation Serif" font-weight="bold" font-size="18.45" text-anchor="middle" fill="#000">Granule flight velocity(mm/s)</text>
<text transform="translate(701.00,189.00) rotate(-90) scale(1.0000,1.2150)" font-family="Liberation Serif" font-weight="bold" font-size="18.8" text-anchor="middle" fill="#000">Percentage of total number of granules(%)</text>
<text transform="translate(661.10,62.55) scale(0.8700,1.0000)" font-family="Liberation Serif" font-weight="bold" font-size="40.7" text-anchor="middle" fill="#000">j</text>
<rect x="869.1" y="38.15" width="26.90" height="10.05" fill="#fff"/>
<rect x="869.1" y="53.85" width="26.90" height="10.05" fill="#fff"/>
<rect x="869.1" y="69.45" width="26.90" height="10.05" fill="#fff"/>
<rect x="869.1" y="85.05" width="26.90" height="10.05" fill="#f4f8f5"/>
<path d="M869.10,38.90L869.95,38.15M869.67,48.20L881.09,38.15M880.80,48.20L892.23,38.15M891.94,48.20L896.00,44.63" stroke="#3d3d3d" stroke-width="1.5" fill="none" stroke-opacity="1.0"/>
<path d="M891.13,53.85L896.00,57.70M879.99,53.85L892.71,63.90M869.10,54.05L881.57,63.90M869.10,62.85L870.43,63.90" stroke="#ff3030" stroke-width="1.6" fill="none" stroke-opacity="1.0"/>
<path d="M869.10,70.10L869.92,69.45M869.10,79.20L881.44,69.45M880.24,79.50L892.96,69.45M891.76,79.50L896.00,76.15" stroke="#1e6ae4" stroke-width="1.6" fill="none" stroke-opacity="1.0"/>
<path d="M892.83,69.45L896.00,71.95M881.32,69.45L894.04,79.50M869.80,69.45L882.52,79.50M869.10,78.00L871.00,79.50" stroke="#1e6ae4" stroke-width="1.6" fill="none" stroke-opacity="1.0"/>
<rect x="869.1" y="38.15" width="26.90" height="10.05" rx="0.8" fill="none" stroke="#000" stroke-width="1.85"/>
<rect x="869.1" y="53.85" width="26.90" height="10.05" rx="0.8" fill="none" stroke="#000" stroke-width="1.85"/>
<rect x="869.1" y="69.45" width="26.90" height="10.05" rx="0.8" fill="none" stroke="#000" stroke-width="1.85"/>
<rect x="869.1" y="85.05" width="26.90" height="10.05" rx="0.8" fill="none" stroke="#000" stroke-width="1.85"/>
<line x1="868.10" y1="105.70" x2="897.00" y2="105.70" stroke="#108a10" stroke-width="1.5" />
<line x1="868.10" y1="121.20" x2="897.00" y2="121.20" stroke="#ff1010" stroke-width="1.5" />
<line x1="868.10" y1="137.00" x2="897.00" y2="137.00" stroke="#8a10ff" stroke-width="1.5" />
<line x1="868.10" y1="152.20" x2="897.00" y2="152.20" stroke="#4a4a4a" stroke-width="1.5" />
<text transform="translate(901.40,47.70) scale(1.2470,1.0000)" font-family="Liberation Serif" font-weight="bold" font-size="12.3" text-anchor="start" fill="#000">U=2m/s,no MCBs</text>
<text transform="translate(901.40,63.29) scale(1.2470,1.0000)" font-family="Liberation Serif" font-weight="bold" font-size="12.3" text-anchor="start" fill="#000">U=2m/s,with MCBs</text>
<text transform="translate(901.40,78.88) scale(1.2470,1.0000)" font-family="Liberation Serif" font-weight="bold" font-size="12.3" text-anchor="start" fill="#000">U=4m/s,no MCBs</text>
<text transform="translate(901.40,94.47) scale(1.2470,1.0000)" font-family="Liberation Serif" font-weight="bold" font-size="12.3" text-anchor="start" fill="#000">U=4m/s,with MCBs</text>
<text transform="translate(901.40,110.06) scale(1.2470,1.0000)" font-family="Liberation Serif" font-weight="bold" font-size="12.3" text-anchor="start" fill="#000">Parabola fit of U=2m/s,no MCBs</text>
<text transform="translate(901.40,125.65) scale(1.2470,1.0000)" font-family="Liberation Serif" font-weight="bold" font-size="12.3" text-anchor="start" fill="#000">Parabola fit of U=2m/s,with MCBs</text>
<text transform="translate(901.40,141.24) scale(1.2470,1.0000)" font-family="Liberation Serif" font-weight="bold" font-size="12.3" text-anchor="start" fill="#000">Parabola fit of U=4m/s,no MCBs</text>
<text transform="translate(901.40,156.83) scale(1.2470,1.0000)" font-family="Liberation Serif" font-weight="bold" font-size="12.3" text-anchor="start" fill="#000">Parabola fit of U=4m/s,with MCBs</text>
</g>
<g id="pk">
<polyline points="147.10,578.98 196.50,567.57 245.90,647.47 295.30,670.30 344.70,738.79 394.10,750.21 443.50,761.62 492.90,767.33 542.30,773.04 591.70,773.04" fill="none" stroke="#8000ff" stroke-width="1.8" stroke-linejoin="round"/>
<ellipse cx="147.10" cy="579.28" rx="5.2" ry="4.25" fill="url(#mP)"/>
<ellipse cx="145.65" cy="578.13" rx="2.3" ry="1.6" fill="url(#mH)"/>
<ellipse cx="196.50" cy="567.87" rx="5.2" ry="4.25" fill="url(#mP)"/>
<ellipse cx="195.05" cy="566.72" rx="2.3" ry="1.6" fill="url(#mH)"/>
<ellipse cx="245.90" cy="647.77" rx="5.2" ry="4.25" fill="url(#mP)"/>
<ellipse cx="244.45" cy="646.62" rx="2.3" ry="1.6" fill="url(#mH)"/>
<ellipse cx="295.30" cy="670.60" rx="5.2" ry="4.25" fill="url(#mP)"/>
<ellipse cx="293.85" cy="669.45" rx="2.3" ry="1.6" fill="url(#mH)"/>
<ellipse cx="344.70" cy="739.09" rx="5.2" ry="4.25" fill="url(#mP)"/>
<ellipse cx="343.25" cy="737.94" rx="2.3" ry="1.6" fill="url(#mH)"/>
<ellipse cx="394.10" cy="750.50" rx="5.2" ry="4.25" fill="url(#mP)"/>
<ellipse cx="392.65" cy="749.36" rx="2.3" ry="1.6" fill="url(#mH)"/>
<ellipse cx="443.50" cy="761.92" rx="5.2" ry="4.25" fill="url(#mP)"/>
<ellipse cx="442.05" cy="760.77" rx="2.3" ry="1.6" fill="url(#mH)"/>
<ellipse cx="492.90" cy="767.63" rx="5.2" ry="4.25" fill="url(#mP)"/>
<ellipse cx="491.45" cy="766.48" rx="2.3" ry="1.6" fill="url(#mH)"/>
<ellipse cx="542.30" cy="773.34" rx="5.2" ry="4.25" fill="url(#mP)"/>
<ellipse cx="540.85" cy="772.19" rx="2.3" ry="1.6" fill="url(#mH)"/>
<ellipse cx="591.70" cy="773.34" rx="5.2" ry="4.25" fill="url(#mP)"/>
<ellipse cx="590.25" cy="772.19" rx="2.3" ry="1.6" fill="url(#mH)"/>
<polyline points="147.10,487.66 196.50,510.49 245.90,556.15 295.30,613.23 344.70,670.30 394.10,715.96 443.50,738.79 492.90,750.21 542.30,761.62 591.70,773.04" fill="none" stroke="#f03c42" stroke-width="1.8" stroke-linejoin="round"/>
<ellipse cx="147.10" cy="487.96" rx="5.2" ry="4.25" fill="url(#mR)"/>
<ellipse cx="145.65" cy="486.81" rx="2.3" ry="1.6" fill="url(#mH)"/>
<ellipse cx="196.50" cy="510.79" rx="5.2" ry="4.25" fill="url(#mR)"/>
<ellipse cx="195.05" cy="509.64" rx="2.3" ry="1.6" fill="url(#mH)"/>
<ellipse cx="245.90" cy="556.45" rx="5.2" ry="4.25" fill="url(#mR)"/>
<ellipse cx="244.45" cy="555.30" rx="2.3" ry="1.6" fill="url(#mH)"/>
<ellipse cx="295.30" cy="613.52" rx="5.2" ry="4.25" fill="url(#mR)"/>
<ellipse cx="293.85" cy="612.38" rx="2.3" ry="1.6" fill="url(#mH)"/>
<ellipse cx="344.70" cy="670.60" rx="5.2" ry="4.25" fill="url(#mR)"/>
<ellipse cx="343.25" cy="669.45" rx="2.3" ry="1.6" fill="url(#mH)"/>
<ellipse cx="394.10" cy="716.26" rx="5.2" ry="4.25" fill="url(#mR)"/>
<ellipse cx="392.65" cy="715.11" rx="2.3" ry="1.6" fill="url(#mH)"/>
<ellipse cx="443.50" cy="739.09" rx="5.2" ry="4.25" fill="url(#mR)"/>
<ellipse cx="442.05" cy="737.94" rx="2.3" ry="1.6" fill="url(#mH)"/>
<ellipse cx="492.90" cy="750.50" rx="5.2" ry="4.25" fill="url(#mR)"/>
<ellipse cx="491.45" cy="749.36" rx="2.3" ry="1.6" fill="url(#mH)"/>
<ellipse cx="542.30" cy="761.92" rx="5.2" ry="4.25" fill="url(#mR)"/>
<ellipse cx="540.85" cy="760.77" rx="2.3" ry="1.6" fill="url(#mH)"/>
<ellipse cx="591.70" cy="773.34" rx="5.2" ry="4.25" fill="url(#mR)"/>
<ellipse cx="590.25" cy="772.19" rx="2.3" ry="1.6" fill="url(#mH)"/>
<rect x="97.7" y="442.0" width="543.60" height="342.45" fill="none" stroke="#000" stroke-width="2.1"/>
<text transform="translate(97.70,807.45) scale(1.2600,1.0000)" font-family="Liberation Serif" font-weight="bold" font-size="19.2" text-anchor="middle" fill="#000">0</text>
<line x1="147.10" y1="784.45" x2="147.10" y2="781.15" stroke="#000" stroke-width="2" />
<line x1="196.50" y1="784.45" x2="196.50" y2="776.85" stroke="#000" stroke-width="2" />
<text transform="translate(196.50,807.45) scale(1.2600,1.0000)" font-family="Liberation Serif" font-weight="bold" font-size="19.2" text-anchor="middle" fill="#000">2</text>
<line x1="245.90" y1="784.45" x2="245.90" y2="781.15" stroke="#000" stroke-width="2" />
<line x1="295.30" y1="784.45" x2="295.30" y2="776.85" stroke="#000" stroke-width="2" />
<text transform="translate(295.30,807.45) scale(1.2600,1.0000)" font-family="Liberation Serif" font-weight="bold" font-size="19.2" text-anchor="middle" fill="#000">4</text>
<line x1="344.70" y1="784.45" x2="344.70" y2="781.15" stroke="#000" stroke-width="2" />
<line x1="394.10" y1="784.45" x2="394.10" y2="776.85" stroke="#000" stroke-width="2" />
<text transform="translate(394.10,807.45) scale(1.2600,1.0000)" font-family="Liberation Serif" font-weight="bold" font-size="19.2" text-anchor="middle" fill="#000">6</text>
<line x1="443.50" y1="784.45" x2="443.50" y2="781.15" stroke="#000" stroke-width="2" />
<line x1="492.90" y1="784.45" x2="492.90" y2="776.85" stroke="#000" stroke-width="2" />
<text transform="translate(492.90,807.45) scale(1.2600,1.0000)" font-family="Liberation Serif" font-weight="bold" font-size="19.2" text-anchor="middle" fill="#000">8</text>
<line x1="542.30" y1="784.45" x2="542.30" y2="781.15" stroke="#000" stroke-width="2" />
<line x1="591.70" y1="784.45" x2="591.70" y2="776.85" stroke="#000" stroke-width="2" />
<text transform="translate(591.70,807.45) scale(1.2600,1.0000)" font-family="Liberation Serif" font-weight="bold" font-size="19.2" text-anchor="middle" fill="#000">10</text>
<text transform="translate(88.10,790.15) scale(1.2600,1.0000)" font-family="Liberation Serif" font-weight="bold" font-size="19.2" text-anchor="end" fill="#000">0</text>
<line x1="97.70" y1="755.91" x2="101.20" y2="755.91" stroke="#000" stroke-width="2" />
<line x1="97.70" y1="727.38" x2="105.50" y2="727.38" stroke="#000" stroke-width="2" />
<text transform="translate(88.10,733.08) scale(1.2600,1.0000)" font-family="Liberation Serif" font-weight="bold" font-size="19.2" text-anchor="end" fill="#000">5</text>
<line x1="97.70" y1="698.84" x2="101.20" y2="698.84" stroke="#000" stroke-width="2" />
<line x1="97.70" y1="670.30" x2="105.50" y2="670.30" stroke="#000" stroke-width="2" />
<text transform="translate(88.10,676.00) scale(1.2600,1.0000)" font-family="Liberation Serif" font-weight="bold" font-size="19.2" text-anchor="end" fill="#000">10</text>
<line x1="97.70" y1="641.76" x2="101.20" y2="641.76" stroke="#000" stroke-width="2" />
<line x1="97.70" y1="613.23" x2="105.50" y2="613.23" stroke="#000" stroke-width="2" />
<text transform="translate(88.10,618.93) scale(1.2600,1.0000)" font-family="Liberation Serif" font-weight="bold" font-size="19.2" text-anchor="end" fill="#000">15</text>
<line x1="97.70" y1="584.69" x2="101.20" y2="584.69" stroke="#000" stroke-width="2" />
<line x1="97.70" y1="556.15" x2="105.50" y2="556.15" stroke="#000" stroke-width="2" />
<text transform="translate(88.10,561.85) scale(1.2600,1.0000)" font-family="Liberation Serif" font-weight="bold" font-size="19.2" text-anchor="end" fill="#000">20</text>
<line x1="97.70" y1="527.61" x2="101.20" y2="527.61" stroke="#000" stroke-width="2" />
<line x1="97.70" y1="499.08" x2="105.50" y2="499.08" stroke="#000" stroke-width="2" />
<text transform="translate(88.10,504.78) scale(1.2600,1.0000)" font-family="Liberation Serif" font-weight="bold" font-size="19.2" text-anchor="end" fill="#000">25</text>
<line x1="97.70" y1="470.54" x2="101.20" y2="470.54" stroke="#000" stroke-width="2" />
<text transform="translate(88.10,447.70) scale(1.2600,1.0000)" font-family="Liberation Serif" font-weight="bold" font-size="19.2" text-anchor="end" fill="#000">30</text>
<text transform="translate(341.00,833.00) scale(1.2600,1.0000)" font-family="Liberation Serif" font-weight="bold" font-size="19.7" text-anchor="middle" fill="#000">Granule flight height(mm)</text>
<text transform="translate(44.10,612.62) rotate(-90) scale(1.0000,1.2600)" font-family="Liberation Serif" font-weight="bold" font-size="19.4" text-anchor="middle" fill="#000">Sand transport rate(mg/cm^2/s)</text>
<text transform="translate(35.10,455.75) scale(0.8800,1.0000)" font-family="Liberation Serif" font-weight="bold" font-size="40.5" text-anchor="middle" fill="#000">k</text>
<line x1="428.00" y1="492.70" x2="475.40" y2="492.70" stroke="#8000ff" stroke-width="1.8" />
<ellipse cx="451.70" cy="493.00" rx="5.2" ry="4.25" fill="url(#mP)"/>
<ellipse cx="450.25" cy="491.85" rx="2.3" ry="1.6" fill="url(#mH)"/>
<line x1="428.00" y1="516.90" x2="475.40" y2="516.90" stroke="#f03c42" stroke-width="1.8" />
<ellipse cx="451.70" cy="517.20" rx="5.2" ry="4.25" fill="url(#mR)"/>
<ellipse cx="450.25" cy="516.05" rx="2.3" ry="1.6" fill="url(#mH)"/>
<text transform="translate(487.00,499.30) scale(1.2600,1.0000)" font-family="Liberation Serif" font-weight="bold" font-size="19.6" text-anchor="start" fill="#000">U=2m/s</text>
<text transform="translate(487.00,523.50) scale(1.2600,1.0000)" font-family="Liberation Serif" font-weight="bold" font-size="19.6" text-anchor="start" fill="#000">U=4m/s</text>
<text transform="translate(406.30,626.70) scale(1.2880,1.0000)" font-family="Liberation Serif" font-weight="bold" font-size="20.8" text-anchor="start" fill="#000">without MCBs</text>
</g>
<g id="pl">
<polyline points="781.24,611.99 829.33,658.35 877.42,689.26 925.51,720.17 973.60,720.17 1021.69,751.08 1069.78,751.08 1117.87,751.08 1165.96,751.08 1214.05,751.08" fill="none" stroke="#8000ff" stroke-width="1.8" stroke-linejoin="round"/>
<ellipse cx="781.24" cy="612.28" rx="5.2" ry="4.25" fill="url(#mP)"/>
<ellipse cx="779.79" cy="611.13" rx="2.3" ry="1.6" fill="url(#mH)"/>
<ellipse cx="829.33" cy="658.65" rx="5.2" ry="4.25" fill="url(#mP)"/>
<ellipse cx="827.88" cy="657.50" rx="2.3" ry="1.6" fill="url(#mH)"/>
<ellipse cx="877.42" cy="689.56" rx="5.2" ry="4.25" fill="url(#mP)"/>
<ellipse cx="875.97" cy="688.41" rx="2.3" ry="1.6" fill="url(#mH)"/>
<ellipse cx="925.51" cy="720.47" rx="5.2" ry="4.25" fill="url(#mP)"/>
<ellipse cx="924.06" cy="719.32" rx="2.3" ry="1.6" fill="url(#mH)"/>
<ellipse cx="973.60" cy="720.47" rx="5.2" ry="4.25" fill="url(#mP)"/>
<ellipse cx="972.15" cy="719.32" rx="2.3" ry="1.6" fill="url(#mH)"/>
<ellipse cx="1021.69" cy="751.38" rx="5.2" ry="4.25" fill="url(#mP)"/>
<ellipse cx="1020.24" cy="750.23" rx="2.3" ry="1.6" fill="url(#mH)"/>
<ellipse cx="1069.78" cy="751.38" rx="5.2" ry="4.25" fill="url(#mP)"/>
<ellipse cx="1068.33" cy="750.23" rx="2.3" ry="1.6" fill="url(#mH)"/>
<ellipse cx="1117.87" cy="751.38" rx="5.2" ry="4.25" fill="url(#mP)"/>
<ellipse cx="1116.42" cy="750.23" rx="2.3" ry="1.6" fill="url(#mH)"/>
<ellipse cx="1165.96" cy="751.38" rx="5.2" ry="4.25" fill="url(#mP)"/>
<ellipse cx="1164.51" cy="750.23" rx="2.3" ry="1.6" fill="url(#mH)"/>
<ellipse cx="1214.05" cy="751.38" rx="5.2" ry="4.25" fill="url(#mP)"/>
<ellipse cx="1212.60" cy="750.23" rx="2.3" ry="1.6" fill="url(#mH)"/>
<polyline points="781.24,472.89 829.33,503.80 877.42,565.62 925.51,658.35 973.60,704.72 1021.69,720.17 1069.78,720.17 1117.87,720.17 1165.96,751.08 1214.05,751.08" fill="none" stroke="#f03c42" stroke-width="1.8" stroke-linejoin="round"/>
<ellipse cx="781.24" cy="473.19" rx="5.2" ry="4.25" fill="url(#mR)"/>
<ellipse cx="779.79" cy="472.04" rx="2.3" ry="1.6" fill="url(#mH)"/>
<ellipse cx="829.33" cy="504.10" rx="5.2" ry="4.25" fill="url(#mR)"/>
<ellipse cx="827.88" cy="502.95" rx="2.3" ry="1.6" fill="url(#mH)"/>
<ellipse cx="877.42" cy="565.92" rx="5.2" ry="4.25" fill="url(#mR)"/>
<ellipse cx="875.97" cy="564.77" rx="2.3" ry="1.6" fill="url(#mH)"/>
<ellipse cx="925.51" cy="658.65" rx="5.2" ry="4.25" fill="url(#mR)"/>
<ellipse cx="924.06" cy="657.50" rx="2.3" ry="1.6" fill="url(#mH)"/>
<ellipse cx="973.60" cy="705.01" rx="5.2" ry="4.25" fill="url(#mR)"/>
<ellipse cx="972.15" cy="703.87" rx="2.3" ry="1.6" fill="url(#mH)"/>
<ellipse cx="1021.69" cy="720.47" rx="5.2" ry="4.25" fill="url(#mR)"/>
<ellipse cx="1020.24" cy="719.32" rx="2.3" ry="1.6" fill="url(#mH)"/>
<ellipse cx="1069.78" cy="720.47" rx="5.2" ry="4.25" fill="url(#mR)"/>
<ellipse cx="1068.33" cy="719.32" rx="2.3" ry="1.6" fill="url(#mH)"/>
<ellipse cx="1117.87" cy="720.47" rx="5.2" ry="4.25" fill="url(#mR)"/>
<ellipse cx="1116.42" cy="719.32" rx="2.3" ry="1.6" fill="url(#mH)"/>
<ellipse cx="1165.96" cy="751.38" rx="5.2" ry="4.25" fill="url(#mR)"/>
<ellipse cx="1164.51" cy="750.23" rx="2.3" ry="1.6" fill="url(#mH)"/>
<ellipse cx="1214.05" cy="751.38" rx="5.2" ry="4.25" fill="url(#mR)"/>
<ellipse cx="1212.60" cy="750.23" rx="2.3" ry="1.6" fill="url(#mH)"/>
<rect x="733.15" y="442.0" width="529.05" height="340.00" fill="none" stroke="#000" stroke-width="2.1"/>
<text transform="translate(733.15,805.00) scale(1.2600,1.0000)" font-family="Liberation Serif" font-weight="bold" font-size="19.2" text-anchor="middle" fill="#000">0</text>
<line x1="781.24" y1="782.00" x2="781.24" y2="778.70" stroke="#000" stroke-width="2" />
<line x1="829.33" y1="782.00" x2="829.33" y2="774.40" stroke="#000" stroke-width="2" />
<text transform="translate(829.33,805.00) scale(1.2600,1.0000)" font-family="Liberation Serif" font-weight="bold" font-size="19.2" text-anchor="middle" fill="#000">2</text>
<line x1="877.42" y1="782.00" x2="877.42" y2="778.70" stroke="#000" stroke-width="2" />
<line x1="925.51" y1="782.00" x2="925.51" y2="774.40" stroke="#000" stroke-width="2" />
<text transform="translate(925.51,805.00) scale(1.2600,1.0000)" font-family="Liberation Serif" font-weight="bold" font-size="19.2" text-anchor="middle" fill="#000">4</text>
<line x1="973.60" y1="782.00" x2="973.60" y2="778.70" stroke="#000" stroke-width="2" />
<line x1="1021.69" y1="782.00" x2="1021.69" y2="774.40" stroke="#000" stroke-width="2" />
<text transform="translate(1021.69,805.00) scale(1.2600,1.0000)" font-family="Liberation Serif" font-weight="bold" font-size="19.2" text-anchor="middle" fill="#000">6</text>
<line x1="1069.78" y1="782.00" x2="1069.78" y2="778.70" stroke="#000" stroke-width="2" />
<line x1="1117.87" y1="782.00" x2="1117.87" y2="774.40" stroke="#000" stroke-width="2" />
<text transform="translate(1117.87,805.00) scale(1.2600,1.0000)" font-family="Liberation Serif" font-weight="bold" font-size="19.2" text-anchor="middle" fill="#000">8</text>
<line x1="1165.96" y1="782.00" x2="1165.96" y2="778.70" stroke="#000" stroke-width="2" />
<line x1="1214.05" y1="782.00" x2="1214.05" y2="774.40" stroke="#000" stroke-width="2" />
<text transform="translate(1214.05,805.00) scale(1.2600,1.0000)" font-family="Liberation Serif" font-weight="bold" font-size="19.2" text-anchor="middle" fill="#000">10</text>
<line x1="733.15" y1="751.08" x2="740.95" y2="751.08" stroke="#000" stroke-width="2" />
<text transform="translate(723.70,756.78) scale(1.2600,1.0000)" font-family="Liberation Serif" font-weight="bold" font-size="19.2" text-anchor="end" fill="#000">0</text>
<line x1="733.15" y1="720.17" x2="736.65" y2="720.17" stroke="#000" stroke-width="2" />
<line x1="733.15" y1="689.26" x2="740.95" y2="689.26" stroke="#000" stroke-width="2" />
<text transform="translate(723.70,694.96) scale(1.2600,1.0000)" font-family="Liberation Serif" font-weight="bold" font-size="19.2" text-anchor="end" fill="#000">2</text>
<line x1="733.15" y1="658.35" x2="736.65" y2="658.35" stroke="#000" stroke-width="2" />
<line x1="733.15" y1="627.44" x2="740.95" y2="627.44" stroke="#000" stroke-width="2" />
<text transform="translate(723.70,633.14) scale(1.2600,1.0000)" font-family="Liberation Serif" font-weight="bold" font-size="19.2" text-anchor="end" fill="#000">4</text>
<line x1="733.15" y1="596.53" x2="736.65" y2="596.53" stroke="#000" stroke-width="2" />
<line x1="733.15" y1="565.62" x2="740.95" y2="565.62" stroke="#000" stroke-width="2" />
<text transform="translate(723.70,571.32) scale(1.2600,1.0000)" font-family="Liberation Serif" font-weight="bold" font-size="19.2" text-anchor="end" fill="#000">6</text>
<line x1="733.15" y1="534.71" x2="736.65" y2="534.71" stroke="#000" stroke-width="2" />
<line x1="733.15" y1="503.80" x2="740.95" y2="503.80" stroke="#000" stroke-width="2" />
<text transform="translate(723.70,509.50) scale(1.2600,1.0000)" font-family="Liberation Serif" font-weight="bold" font-size="19.2" text-anchor="end" fill="#000">8</text>
<line x1="733.15" y1="472.89" x2="736.65" y2="472.89" stroke="#000" stroke-width="2" />
<text transform="translate(723.70,447.68) scale(1.2600,1.0000)" font-family="Liberation Serif" font-weight="bold" font-size="19.2" text-anchor="end" fill="#000">10</text>
<text transform="translate(997.50,832.40) scale(1.2600,1.0000)" font-family="Liberation Serif" font-weight="bold" font-size="19.24" text-anchor="middle" fill="#000">Granule flight height(mm)</text>
<text transform="translate(690.00,611.40) rotate(-90) scale(1.0000,1.2600)" font-family="Liberation Serif" font-weight="bold" font-size="19.4" text-anchor="middle" fill="#000">Sand transport rate(mg/cm^2/s)</text>
<text transform="translate(674.20,455.75) scale(0.8800,1.0000)" font-family="Liberation Serif" font-weight="bold" font-size="40.5" text-anchor="middle" fill="#000">l</text>
<line x1="1062.40" y1="486.70" x2="1108.50" y2="486.70" stroke="#8000ff" stroke-width="1.8" />
<ellipse cx="1085.45" cy="487.00" rx="5.2" ry="4.25" fill="url(#mP)"/>
<ellipse cx="1084.00" cy="485.85" rx="2.3" ry="1.6" fill="url(#mH)"/>
<line x1="1062.40" y1="510.40" x2="1108.50" y2="510.40" stroke="#f03c42" stroke-width="1.8" />
<ellipse cx="1085.45" cy="510.70" rx="5.2" ry="4.25" fill="url(#mR)"/>
<ellipse cx="1084.00" cy="509.55" rx="2.3" ry="1.6" fill="url(#mH)"/>
<text transform="translate(1119.80,493.30) scale(1.2300,1.0000)" font-family="Liberation Serif" font-weight="bold" font-size="19.6" text-anchor="start" fill="#000">U=2m/s</text>
<text transform="translate(1119.80,517.00) scale(1.2300,1.0000)" font-family="Liberation Serif" font-weight="bold" font-size="19.6" text-anchor="start" fill="#000">U=4m/s</text>
<text transform="translate(1049.50,632.70) scale(1.2450,1.0000)" font-family="Liberation Serif" font-weight="bold" font-size="20.8" text-anchor="start" fill="#000">with MCBs</text>
</g>
</svg>
</body></html>
